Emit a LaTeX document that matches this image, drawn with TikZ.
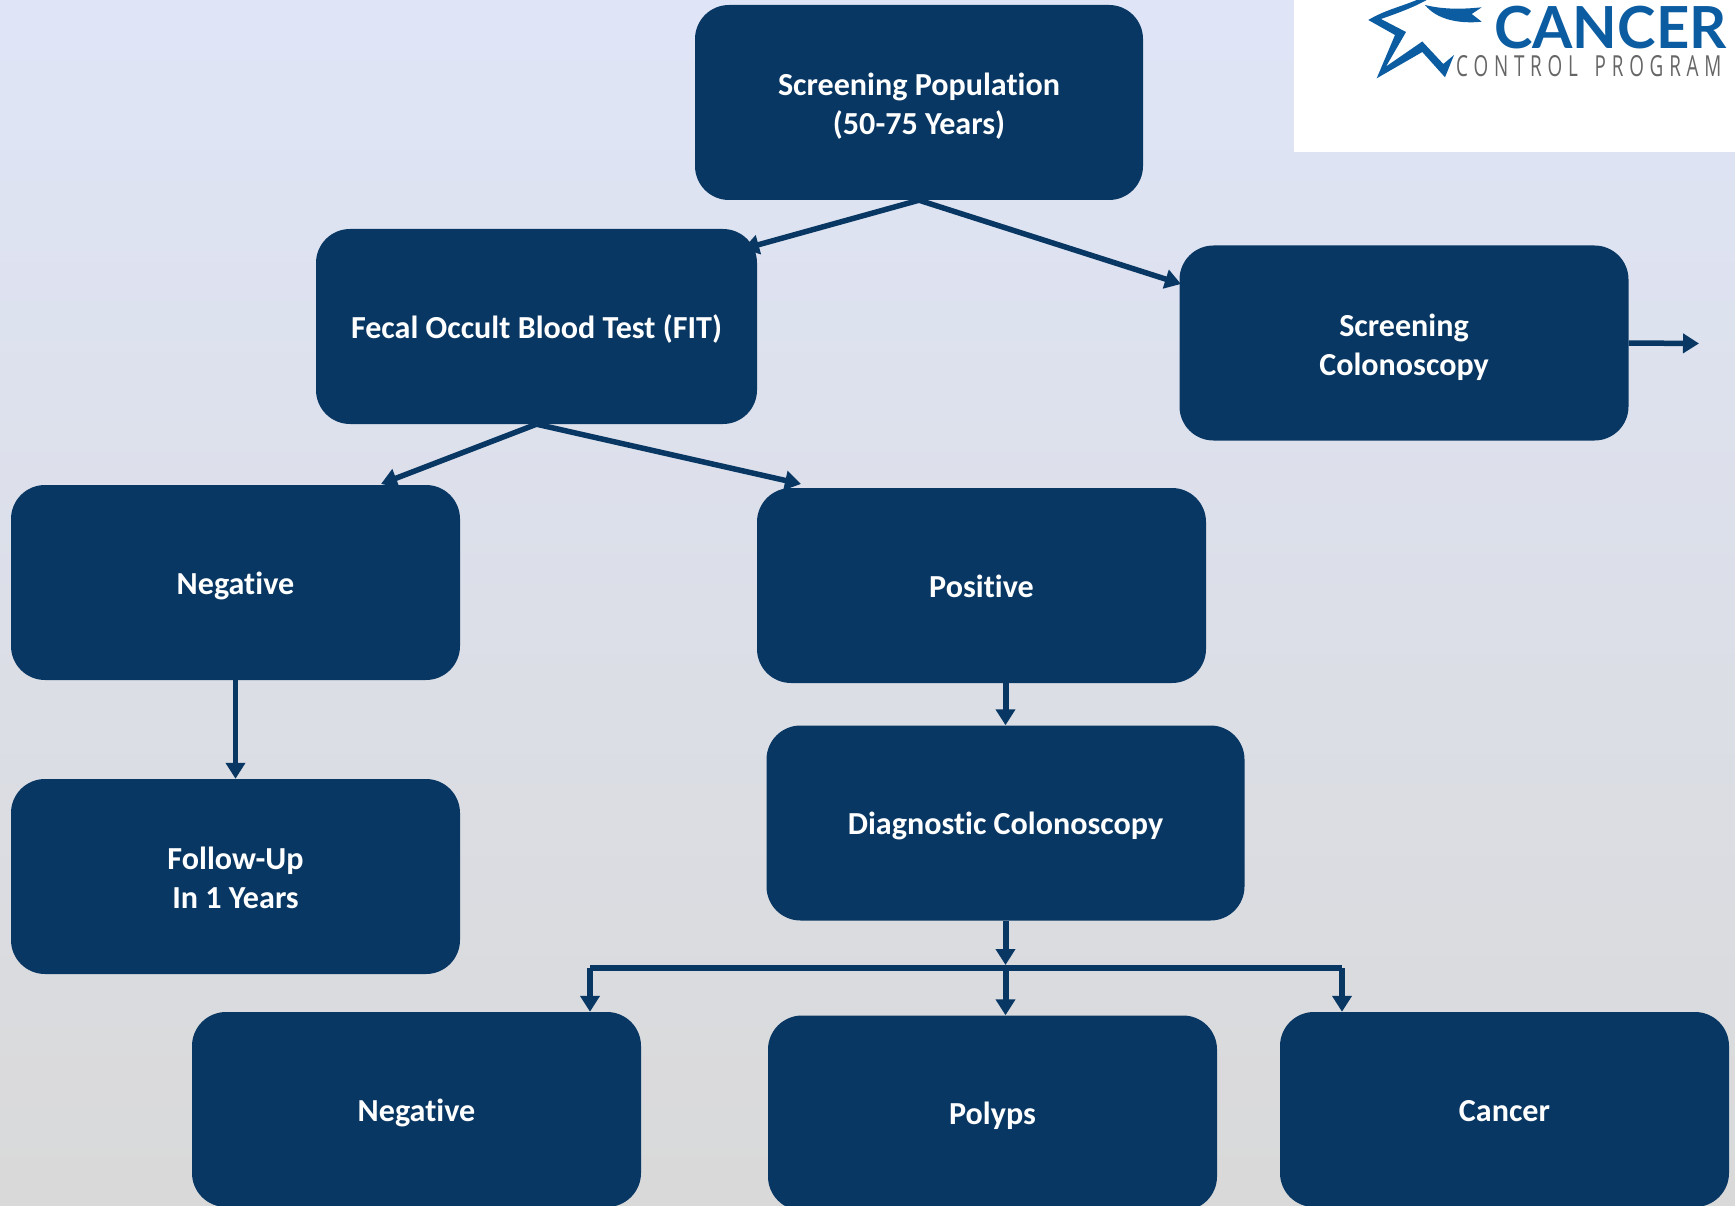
\documentclass[tikz,border=0pt]{standalone}
\usepackage{fontspec}
\usetikzlibrary{arrows.meta}
\setmainfont[Ligatures=NoCommon]{Carlito}
\newfontfamily\logofont{Lato}
\newfontfamily\ctrlfont[LetterSpace=20,FakeStretch=0.65]{Open Sans}
\definecolor{navy}{HTML}{093763}
\definecolor{logoblue}{HTML}{0B5CA0}
\definecolor{bgtop}{HTML}{DFE5F7}
\definecolor{bgbot}{HTML}{D9D9D9}
\definecolor{logogray}{HTML}{666666}
\tikzset{
  flowbox/.style={rectangle,rounded corners=34pt,fill=navy,text=white,inner sep=0pt,
    minimum width=449pt,minimum height=195pt,align=center,
    font=\fontsize{32.1}{39}\selectfont\bfseries},
  oneline/.style={text height=23pt,text depth=0pt},
  twoline/.style={text height=#1,text depth=0pt},
  conn/.style={draw=navy,line width=5.5pt,-{Triangle[length=16pt,width=19pt]}},
  stem/.style={conn,line width=6pt},
  bar/.style={draw=navy,line width=6pt},
}
\begin{document}
\begin{tikzpicture}[x=1pt,y=-1pt]
\useasboundingbox (0,0) rectangle (1735,1206);
\clip (0,0) rectangle (1735,1206);
\shade[top color=bgtop,bottom color=bgbot] (0,0) rectangle (1735,1206);
% logo
\fill[white] (1294,-5) rectangle (1740,152);
\fill[logoblue] (1368.3,20) .. controls (1385,10) and (1400,7) .. (1416.7,0) -- (1426.7,0)
  .. controls (1412,8) and (1398,13) .. (1381,19) -- (1406,32) -- (1386,66.5)
  -- (1422.3,41.5) -- (1443.3,64) -- (1454,55) -- (1445,77.3) -- (1422.3,52)
  -- (1376.7,78.3) -- (1395,35) -- cycle;
\fill[logoblue] (1425,5) .. controls (1445,10) and (1465,9) .. (1481.7,7.3) -- (1471.7,14)
  -- (1481.7,21.7) .. controls (1460,24) and (1437,20) .. (1425,5) -- cycle;
\node[inner sep=0pt,anchor=base west,text=logoblue,font=\logofont\fontsize{58}{58}\selectfont\bfseries] (cancerlbl) at (1494,49) {CANCER};
\node[inner sep=0pt,anchor=base west,text=logogray,font=\ctrlfont\fontsize{29}{29}\selectfont] (ctrllbl) at (1456,77) {CONTROL\hspace{6pt} PROGRAM};
% boxes
\node[flowbox,twoline=65pt,minimum width=448pt] (pop) at (919,102.5) {Screening Population\\(50-75 Years)};
\node[flowbox,oneline,minimum width=441pt] (fit) at (536.5,326.5) {Fecal Occult Blood Test (FIT)};
\node[flowbox,twoline=64pt] (col) at (1404,343) {Screening\\Colonoscopy};
\node[flowbox,oneline] (neg) at (235.5,582.5) {Negative};
\node[flowbox,oneline] (pos) at (981.5,585.5) {Positive};
\node[flowbox,twoline=63.6pt] (fol) at (235.5,876.5) {Follow-Up\\In 1 Years};
\node[flowbox,oneline,minimum width=478pt] (diag) at (1005.5,823) {Diagnostic Colonoscopy};
\node[flowbox,oneline] (neg2) at (416.5,1109.5) {Negative};
\node[flowbox,oneline] (pol) at (992.5,1113) {Polyps};
\node[flowbox,oneline] (can) at (1504.5,1109.5) {Cancer};
% free ends
\coordinate (t1) at (743,249);
\coordinate (t2) at (1181,284);
\coordinate (t3) at (381,484);
\coordinate (t4) at (801,484);
\coordinate (out) at (1699,343.5);
\coordinate (barL) at (590,968);
\coordinate (barR) at (1342,968);
\coordinate (barM) at (diag.south |- barL);
% connectors
\draw[conn] (pop.south) -- (t1);
\draw[conn] (pop.south) -- (t2);
\draw[conn] (fit.south) -- (t3);
\draw[conn] (fit.south) -- (t4);
\draw[conn] (col.east) -- (out);
\draw[conn] (neg.south) -- (fol.north);
\draw[stem] (diag.north |- pos.south) -- (diag.north);
\draw[stem] (diag.south) -- ([yshift=3pt]barM);
\draw[bar] (barL) -- (barR);
\draw[stem] (barL) -- (barL |- neg2.north);
\draw[stem] (barM) -- (barM |- pol.north);
\draw[stem] (barR) -- (barR |- can.north);
\end{tikzpicture}
\end{document}
